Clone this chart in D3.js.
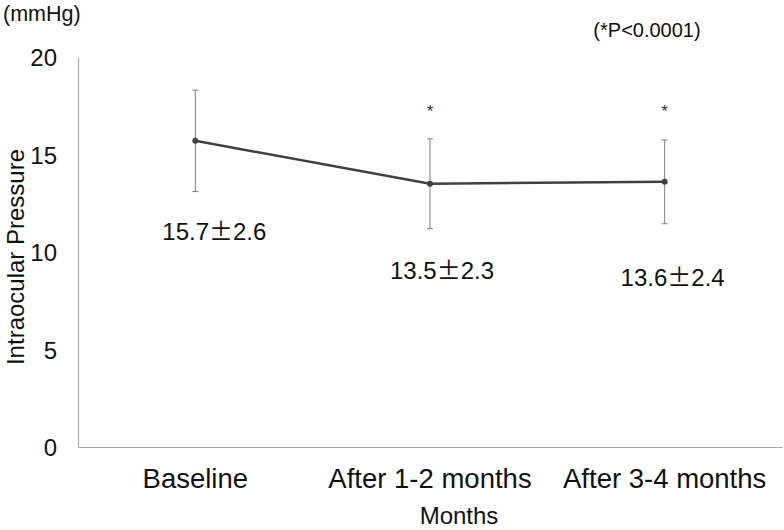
<!DOCTYPE html>
<html><head><meta charset="utf-8">
<script src="https://cdn.jsdelivr.net/npm/d3@7"></script>
<style>body{margin:0;background:#fff}svg{display:block;font-family:"Liberation Sans",Arial,sans-serif}</style>
</head><body>
<script>
const categories = ["Baseline", "After 1-2 months", "After 3-4 months"];
const means = [15.7, 13.5, 13.6];
const errors = [2.6, 2.3, 2.15];
const labelMeans = ["15.7", "13.5", "13.6"];
const labelSDs = ["2.6", "2.3", "2.4"];
const significant = [false, true, true];
const yTicks = [0, 5, 10, 15, 20];

const W = 784, H = 530;
const m = {left: 78, right: 2, top: 57, bottom: 83};
const svg = d3.select("body").append("svg").attr("width", W).attr("height", H);

const x = d3.scaleBand().domain(categories).range([m.left, W - m.right]);
const y = d3.scaleLinear().domain([0, 20]).range([H - m.bottom, m.top]);
const cx = c => x(c) + x.bandwidth() / 2;

// axes
const yAxis = svg.append("g").attr("transform", `translate(${m.left},0)`)
  .call(d3.axisLeft(y).tickValues(yTicks).tickSize(0).tickPadding(21));
yAxis.selectAll("text").attr("font-size", 24).attr("fill", "#111").attr("dy", "0.36em");
yAxis.select(".domain").attr("stroke", "#a6a6a6");

const xAxis = svg.append("g").attr("transform", `translate(0,${y(0)})`)
  .call(d3.axisBottom(x).tickSize(0).tickPadding(22));
xAxis.selectAll("text").attr("font-size", 27.5).attr("fill", "#111").attr("dy", "0.7em");
xAxis.select(".domain").attr("stroke", "#a6a6a6");

// error bars
const g = svg.append("g");
categories.forEach((c, i) => {
  const hi = y(means[i] + errors[i]), lo = y(means[i] - errors[i]);
  g.append("line").attr("x1", cx(c)).attr("x2", cx(c)).attr("y1", hi).attr("y2", lo).attr("stroke", "#7f7f7f").attr("stroke-width", 1);
  [hi, lo].forEach(v => g.append("line").attr("x1", cx(c) - 3).attr("x2", cx(c) + 3).attr("y1", v).attr("y2", v).attr("stroke", "#7f7f7f").attr("stroke-width", 1));
});

// line
const line = d3.line().x((d, i) => cx(categories[i])).y(d => y(d));
svg.append("path").datum(means).attr("d", line).attr("fill", "none").attr("stroke", "#404040").attr("stroke-width", 2.5);
svg.selectAll("circle.pt").data(means).join("circle").attr("class", "pt")
  .attr("cx", (d, i) => cx(categories[i])).attr("cy", d => y(d)).attr("r", 3).attr("fill", "#404040");

// value labels
const dxs = [19, 12, 8];
const dys = [48, 50, 62];
const vl = svg.selectAll("text.val").data(labelMeans).join("text").attr("class", "val")
  .attr("x", (d, i) => cx(categories[i]) + dxs[i])
  .attr("y", (d, i) => y(means[i] - errors[i]) + dys[i])
  .attr("text-anchor", "middle").attr("font-size", 24).attr("fill", "#111");
vl.append("tspan").text(d => d);
vl.append("tspan").attr("font-family", "'Noto Sans CJK JP'").text("\u00B1");
vl.append("tspan").text((d, i) => labelSDs[i]);

// asterisks
svg.selectAll("text.ast").data(categories.filter((c, i) => significant[i])).join("text").attr("class", "ast")
  .attr("x", d => cx(d)).attr("y", y(16.9))
  .attr("text-anchor", "middle").attr("font-size", 17).attr("fill", "#333").text("*");

// titles
svg.append("text").attr("x", 3).attr("y", 21).attr("font-size", 21.5).attr("fill", "#111").text("(mmHg)");
svg.append("text").attr("x", 647).attr("y", 37).attr("text-anchor", "middle").attr("font-size", 20).attr("fill", "#111").text("(*P<0.0001)");
svg.append("text").attr("transform", `translate(24,${(m.top + H - m.bottom) / 2 + 5}) rotate(-90)`)
  .attr("text-anchor", "middle").attr("font-size", 24).attr("fill", "#111").text("Intraocular Pressure");
svg.append("text").attr("x", 459).attr("y", 524).attr("text-anchor", "middle").attr("font-size", 24).attr("fill", "#111").text("Months");
</script>
</body></html>
